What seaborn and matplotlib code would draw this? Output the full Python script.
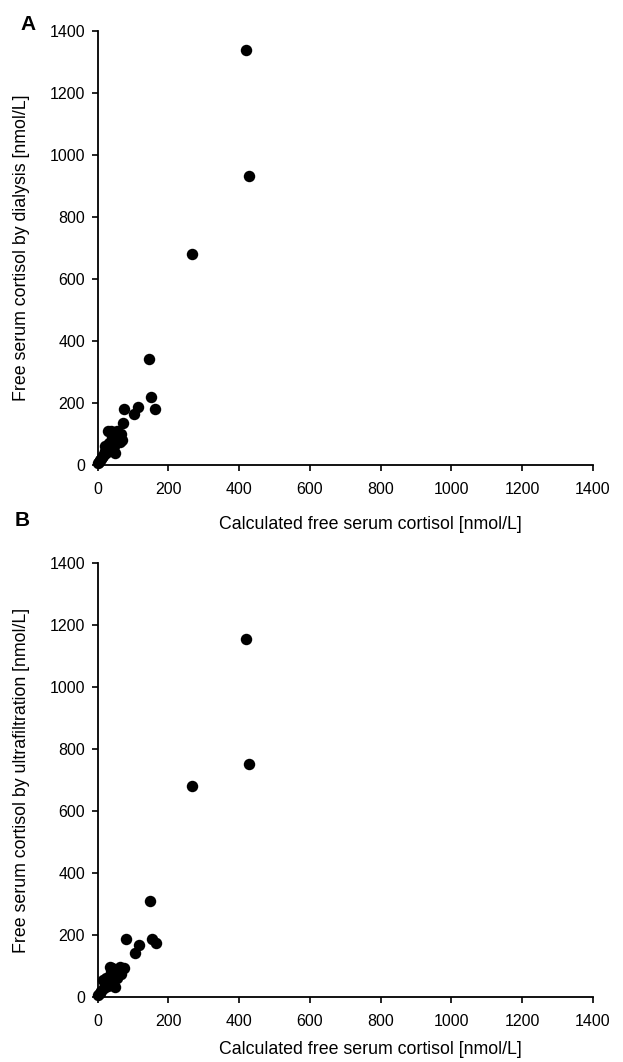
import matplotlib
matplotlib.use("Agg")
import matplotlib.pyplot as plt
import seaborn as sns
import pandas as pd

sns.set_theme(style="ticks")
plt.rcParams['font.family'] = ['Liberation Sans', 'DejaVu Sans']
plt.rcParams['text.color'] = 'black'

# Panel A: calculated vs dialysis
calc_a = [2, 5, 8, 10, 12, 15, 18, 20, 22, 25, 28, 30, 32, 35, 38, 40, 42, 45, 48, 50,
          52, 55, 58, 60, 62, 65, 68, 71, 76, 104, 114, 145, 150, 162, 268, 420, 428]
dial_a = [5, 10, 15, 20, 25, 30, 35, 60, 45, 40, 110, 55, 70, 50, 110, 90, 80, 60, 100, 40,
          70, 110, 85, 95, 75, 100, 80, 134, 182, 164, 188, 342, 219, 182, 682, 1339, 933]

# Panel B: calculated vs ultrafiltration
calc_b = [2, 6, 10, 15, 18, 22, 25, 30, 34, 38, 40, 44, 48, 52, 55, 58, 62, 67, 70, 76,
          79, 107, 117, 149, 154, 165, 268, 420, 428]
ultra_b = [5, 13, 20, 55, 30, 40, 60, 35, 98, 80, 92, 45, 33, 70, 60, 85, 98, 75, 90, 93,
           186, 141, 168, 309, 186, 173, 682, 1154, 751]

ticks = [0, 200, 400, 600, 800, 1000, 1200, 1400]
xlabel = "Calculated free serum cortisol [nmol/L]"
ylabel_a = "Free serum cortisol by dialysis [nmol/L]"
ylabel_b = "Free serum cortisol by ultrafiltration [nmol/L]"

W, H = 623, 1062
fig = plt.figure(figsize=(W / 100, H / 100), dpi=100)

def make_axes(top_px, bottom_px):
    left_px, right_px = 97.6, 593
    return fig.add_axes([left_px / W, 1 - bottom_px / H,
                         (right_px - left_px) / W, (bottom_px - top_px) / H])

ax_a = make_axes(31, 465)
ax_b = make_axes(563, 997)

for ax, x, y, ylab, xl_y in [(ax_a, calc_a, dial_a, ylabel_a, -0.138),
                             (ax_b, calc_b, ultra_b, ylabel_b, -0.122)]:
    df = pd.DataFrame({"x": x, "y": y})
    sns.scatterplot(data=df, x="x", y="y", ax=ax, color="black", s=68,
                    edgecolor="black", linewidth=0, clip_on=False, zorder=3)
    ax.set_xlim(0, 1400)
    ax.set_ylim(0, 1400)
    ax.set_xticks(ticks)
    ax.set_yticks(ticks)
    ax.set_xticklabels([str(t) for t in ticks])
    ax.set_yticklabels([str(t) for t in ticks])
    ax.tick_params(axis="both", direction="out", length=4, width=1.2,
                   labelsize=11.5, colors="black")
    ax.tick_params(axis="x", pad=8)
    ax.tick_params(axis="y", pad=5)
    for sp in ["top", "right"]:
        ax.spines[sp].set_visible(False)
    for sp in ["left", "bottom"]:
        ax.spines[sp].set_linewidth(1.3)
        ax.spines[sp].set_color("black")
    ax.set_xlabel(xlabel, fontsize=12.8, color="black", va="center")
    ax.xaxis.set_label_coords(0.55, xl_y)
    ax.set_ylabel(ylab, fontsize=12.8, color="black", va="center")
    ax.yaxis.set_label_coords(-0.153, 0.5)
    ax.set_facecolor("white")

fig.text(28 / W, 1 - 25 / H, "A", fontsize=15, fontweight="bold",
         ha="center", va="center", color="black")
fig.text(22 / W, 1 - 520 / H, "B", fontsize=15, fontweight="bold",
         ha="center", va="center", color="black")

fig.savefig("out.png", dpi=100, facecolor="white")
